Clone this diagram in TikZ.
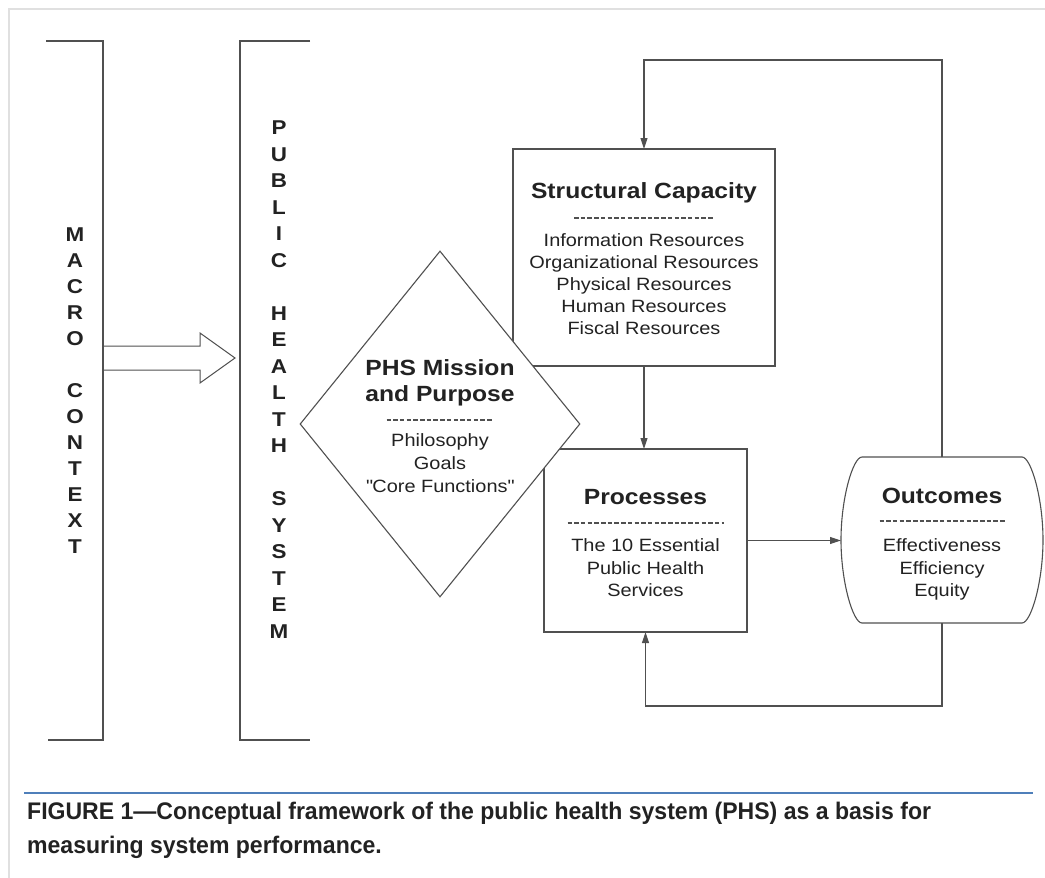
\documentclass[tikz,border=0pt]{standalone}
\usepackage{fontspec}
\setmainfont{Liberation Sans}[FakeStretch=1.12]
\newfontfamily\capfont{Liberation Sans}[FakeStretch=0.96]
\usetikzlibrary{arrows.meta,shapes.geometric,calc}
\definecolor{capblue}{HTML}{4F7FBA}
\definecolor{ink}{HTML}{222222}
\definecolor{stroke}{HTML}{505050}
\newcommand\straightquote{\XeTeXglyph\XeTeXcharglyph"22\relax}
\tikzset{
  line/.style={draw=stroke, line width=1.1pt},
  arr/.style={line, -{Triangle[length=11pt,width=7pt]}},
  box/.style={line, fill=white, inner sep=0pt, outer sep=0pt},
  ttl/.style={font=\fontsize{22}{26}\selectfont\bfseries, inner sep=0pt, text=ink},
  body/.style={font=\fontsize{17.8}{22.5}\selectfont, inner sep=0pt, align=center, text=ink},
  sepline/.style={draw=stroke, line width=1.3pt, dash pattern=on 4.5pt off 2.2pt},
  sepnode/.style={inner sep=0pt, outer sep=0pt, minimum height=0pt},
  vert/.style={font=\fontsize{20}{26}\selectfont\bfseries, inner sep=0pt, align=center, text=ink},
}
\begin{document}
\begin{tikzpicture}[x=1pt,y=-1pt]
\useasboundingbox (0,0) rectangle (1045,878);
\fill[white] (0,0) rectangle (1045,878);
% outer frame (light grey)
\draw[draw=black!12, line width=1.5pt] (9,878) -- (9,9) -- (1045,9);

% brackets
\draw[line] (46,41) -- (103,41) -- (103,740) -- (48,740);
\draw[line] (310,41) -- (240,41) -- (240,740) -- (310,740);

% vertical words
\node[vert, anchor=north] (macro) at (75,227.8)
  {M\\A\\C\\R\\O\\[26pt]C\\O\\N\\T\\E\\X\\T};
\node[vert, anchor=north, font=\fontsize{20}{26.5}\selectfont\bfseries] (phs) at (279,120.8)
  {P\\U\\B\\L\\I\\C\\[26.5pt]H\\E\\A\\L\\T\\H\\[26.5pt]S\\Y\\S\\T\\E\\M};

% block arrow
\draw[line, line width=1pt] (103,346) -- (200,346) -- (200,333) -- (235,358) -- (200,383) -- (200,370) -- (103,370);

% boxes
\node[box, minimum width=262pt, minimum height=217pt] (sc) at (644,257.5) {};
\node[box, minimum width=203pt, minimum height=183pt] (proc) at (645.5,540.5) {};
\node[diamond, line, fill=white, minimum width=280pt, minimum height=346pt, inner sep=0pt] (dia) at (440,424) {};

% outcomes barrel
\node[inner sep=0pt, outer sep=0pt, minimum width=202pt, minimum height=166pt] (out) at (942,540) {};
\draw[line] ($(out.north west)+(21,0)$) -- ($(out.north east)+(-21,0)$)
  .. controls +(9,0) and +(0,-42) .. (out.east)
  .. controls +(0,42) and +(9,0) .. ($(out.south east)+(-21,0)$)
  -- ($(out.south west)+(21,0)$)
  .. controls +(-9,0) and +(0,42) .. (out.west)
  .. controls +(0,-42) and +(-9,0) .. cycle;

% Structural capacity text
\node[ttl, anchor=base] (sct) at (644,198) {Structural Capacity};
\node[sepnode, minimum width=140pt] (scs) at (644,218) {};
\draw[sepline] (scs.west) -- (scs.east);
\node[body, anchor=north, font=\fontsize{17.8}{22}\selectfont] (scb) at (644,233.6)
  {Information Resources\\Organizational Resources\\Physical Resources\\Human Resources\\Fiscal Resources};

% Diamond text
\node[ttl, align=center, anchor=north] (diat) at (440,359) {PHS Mission\\and Purpose};
\node[sepnode, minimum width=107pt] (dias) at (440,420) {};
\draw[sepline] (dias.west) -- (dias.east);
\node[body, anchor=north, font=\fontsize{17.8}{23}\selectfont] (diab) at (440,433.6)
  {Philosophy\\Goals\\\straightquote Core Functions\straightquote};

% Processes text
\node[ttl, anchor=base] (proct) at (645.5,504) {Processes};
\node[sepnode, minimum width=156pt] (procs) at (645.5,523) {};
\draw[sepline] (procs.west) -- (procs.east);
\node[body, anchor=north] (procb) at (645.5,538.6)
  {The 10 Essential\\Public Health\\Services};

% Outcomes text
\node[ttl, anchor=base] (outt) at (942,503) {Outcomes};
\node[sepnode, minimum width=125pt] (outs) at (942,521) {};
\draw[sepline] (outs.west) -- (outs.east);
\node[body, anchor=north] (outb) at (942,538.6)
  {Effectiveness\\Efficiency\\Equity};

% connectors
\coordinate (topy) at (0,60);
\coordinate (boty) at (0,706);
\draw[arr] (out.north) |- (sc.north |- topy) -- (sc.north);
\draw[arr] (sc.south) -- (sc.south |- proc.north);
\draw[arr] (proc.east) -- (proc.east -| out.west);
\draw[arr] (out.south) |- (proc.south |- boty) -- (proc.south);

% caption
\draw[draw=capblue, line width=1.8pt] (24,793) -- (1033,793);
\node[anchor=north west, inner sep=0pt, align=left, text=ink,
      font=\capfont\fontsize{24}{34}\selectfont\bfseries] (cap) at (27,801.6)
  {FIGURE 1—Conceptual framework of the public health system (PHS) as a basis for\\measuring system performance.};
\end{tikzpicture}
\end{document}
